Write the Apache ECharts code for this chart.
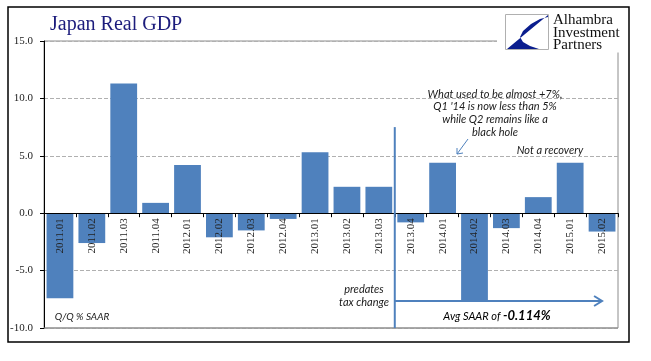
<!DOCTYPE html>
<html><head><meta charset="utf-8">
<script src="https://cdn.jsdelivr.net/npm/echarts/dist/echarts.min.js"></script>
<style>html,body{margin:0;padding:0;background:#fff}#c{width:651px;height:361px}</style>
</head><body><div id="c"></div>
<script>
// ---- data ----
const categories = ['2011.01','2011.02','2011.03','2011.04','2012.01','2012.02','2012.03','2012.04',
  '2013.01','2013.02','2013.03','2013.04','2014.01','2014.02','2014.03','2014.04','2015.01','2015.02'];
const gdpValues = [-7.4,-2.6,11.3,0.9,4.2,-2.1,-1.5,-0.5,5.3,2.3,2.3,-0.8,4.4,-7.6,-1.3,1.4,4.4,-1.6];
const yMin = -10, yMax = 15, yStep = 5;
const taxChangeStart = '2013.04';   // divider sits on the left edge of this category
const dividerTop = 7.5;             // value where the divider line ends
const arrowLevel = -7.65;           // value of the horizontal arrow
const arrowEnd = '2015.02';
const titleText = 'Japan Real GDP';
const logoLines = ['Alhambra','Investment','Partners'];
const noteQ1 = ['What used to be almost +7%,', "Q1 '14 is now less than 5%", 'while Q2 remains like a', 'black hole'];
const noteRecovery = 'Not a recovery';
const notePredates = ['predates','tax change'];
const noteAvgLead = 'Avg SAAR of ';
const noteAvgValue = '-0.114%';
const unitLabel = 'Q/Q % SAAR';

const BLUE = '#4f81bd';
const chart = echarts.init(document.getElementById('c'), null, {renderer:'canvas'});
const G = {left:44, right:33, top:41, bottom:33};
const baseOption = {
  animation:false,
  backgroundColor:'#fff',
  grid:{left:G.left,right:G.right,top:G.top,bottom:G.bottom,containLabel:false,outerBoundsMode:'none',
    show:true,borderColor:'#8c8c8c',borderWidth:1,backgroundColor:'transparent'},
  xAxis:{type:'category',data:categories,z:5,position:'bottom',offset:0,
    axisLine:{onZero:false,lineStyle:{color:'#000',width:1}},
    axisTick:{show:true,length:4,lineStyle:{color:'#000'}},
    axisLabel:{rotate:90,margin:5,interval:0,hideOverlap:false,fontFamily:'Liberation Serif',fontSize:11,color:'#222'},
    splitLine:{show:false}},
  yAxis:{type:'value',min:yMin,max:yMax,interval:yStep,
    axisLine:{show:true,lineStyle:{color:'#000'}},
    axisTick:{show:true,length:4,lineStyle:{color:'#000'}},
    axisLabel:{formatter:v=>v.toFixed(1),margin:11,fontFamily:'Liberation Serif',fontSize:11,color:'#222'},
    splitLine:{show:true,lineStyle:{color:'#b0b0b0',type:'dashed',width:1}}},
  series:[{type:'bar',data:gdpValues,barCategoryGap:'16%',itemStyle:{color:BLUE}}]
};
chart.setOption(baseOption);

// move the category axis up to the zero line
const yZeroPx = chart.convertToPixel({yAxisIndex:0}, 0);
const yBottom = chart.convertToPixel({yAxisIndex:0}, yMin);
chart.setOption({xAxis:{offset: -(yBottom - yZeroPx)}});

const gridW = 651 - G.left - G.right;
const band = gridW / categories.length;
const xDiv = chart.convertToPixel({xAxisIndex:0}, taxChangeStart) - band/2;
const xArrowEnd = chart.convertToPixel({xAxisIndex:0}, arrowEnd);
const yDivTop = chart.convertToPixel({yAxisIndex:0}, dividerTop);
const yArrow = chart.convertToPixel({yAxisIndex:0}, arrowLevel);

const noteFont = {fontFamily:'Lato',fontStyle:'italic',fontSize:11,fill:'#1a1a1a'};
const els = [];
// gray bottom border of the plot (axis line was moved to zero)
els.push({type:'line',z:4,shape:{x1:G.left,y1:yBottom,x2:651-G.right,y2:yBottom},style:{stroke:'#8c8c8c',lineWidth:1}});
// divider and arrow
els.push({type:'line',z:20,shape:{x1:xDiv,y1:yDivTop,x2:xDiv,y2:yBottom},style:{stroke:BLUE,lineWidth:2}});
els.push({type:'line',z:20,shape:{x1:xDiv,y1:yArrow,x2:xArrowEnd,y2:yArrow},style:{stroke:BLUE,lineWidth:2}});
els.push({type:'polyline',z:20,shape:{points:[[xArrowEnd-8,yArrow-5],[xArrowEnd,yArrow],[xArrowEnd-8,yArrow+5]]},style:{stroke:BLUE,lineWidth:2,fill:'none'}});
// small pointer arrow
els.push({type:'line',z:20,shape:{x1:468,y1:139,x2:457,y2:154},style:{stroke:BLUE,lineWidth:1}});
els.push({type:'polyline',z:20,shape:{points:[[457,148],[457,154],[463,153]]},style:{stroke:BLUE,lineWidth:1,fill:'none'}});
// title
els.push({type:'text',z:30,left:50,top:15,style:{text:titleText,fontFamily:'Liberation Serif',fontSize:20,fill:'#1c1c7c'}});
// logo
els.push({type:'rect',z:40,shape:{x:497,y:8.5,width:131,height:44},style:{fill:'#fff'}});
els.push({type:'rect',z:41,shape:{x:505.5,y:14.5,width:43,height:35},style:{fill:'#fff',stroke:'#b0b0b0',lineWidth:1}});
els.push({type:'polygon',z:42,shape:{points:[[548,15],[507,49],[539,49],[530,46],[523,42],[520,37],[523,31],[531,24],[540,19],[548,17]]},style:{fill:'#0b1e8e'}});
logoLines.forEach((t,i)=>els.push({type:'text',z:42,left:553,top:13+i*12.5,style:{text:t,fontFamily:'Liberation Serif',fontSize:15,fill:'#111'}}));
// notes
noteQ1.forEach((t,i)=>els.push({type:'text',z:30,x:495,y:94+i*12.8,style:Object.assign({text:t,textAlign:'center',textVerticalAlign:'middle'},noteFont)}));
els.push({type:'text',z:30,x:550,y:150,style:Object.assign({text:noteRecovery,textAlign:'center',textVerticalAlign:'middle'},noteFont)});
notePredates.forEach((t,i)=>els.push({type:'text',z:30,x:364,y:289+i*13,style:Object.assign({text:t,textAlign:'center',textVerticalAlign:'middle'},noteFont)}));
els.push({type:'text',z:30,x:497,y:316,style:{text:'{a|'+noteAvgLead+'}{b|'+noteAvgValue+'}',textAlign:'center',textVerticalAlign:'middle',
  rich:{a:{fontFamily:'Lato',fontStyle:'italic',fontSize:11,color:'#1a1a1a'},b:{fontFamily:'Lato',fontStyle:'italic',fontWeight:'bold',fontSize:13,color:'#1a1a1a'}}}});
els.push({type:'text',z:30,x:82,y:317,style:Object.assign({text:unitLabel,textAlign:'center',textVerticalAlign:'middle'},noteFont,{fontSize:10})});
// outer frame
els.push({type:'rect',z:100,shape:{x:8,y:7,width:621,height:335},style:{fill:'none',stroke:'#000',lineWidth:1.5}});
chart.setOption({graphic:{elements:els}});
</script></body></html>
